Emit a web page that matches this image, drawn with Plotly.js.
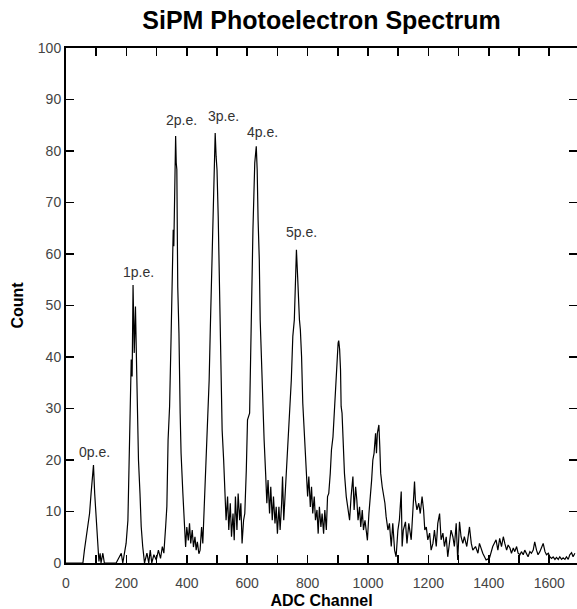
<!DOCTYPE html>
<html>
<head>
<meta charset="utf-8">
<script src="https://cdn.plot.ly/plotly-3.0.1.min.js"></script>
<style>html,body{margin:0;padding:0;background:#fff;}#chart{width:577px;height:609px;}</style>
</head>
<body>
<div id="chart"></div>
<script>
// ADC channel positions of the spectrum samples
const channels = [
0,50,56,61,67,72,78,83,89,91,
95,100,105,109,113,116,122,127,166,183,
188,194,199,205,208,211,216,219,222,226,
230,234,237,240,245,249,254,260,268,274,
279,284,291,299,306,313,319,324,330,334,
338,343,348,352,355,357,359,363,365,367,
370,374,378,381,387,392,396,400,405,409,
413,418,422,427,431,435,440,444,449,453,
456,461,465,470,474,478,483,486,490,492,
494,497,500,504,507,509,513,517,522,526,
530,535,539,544,548,553,557,561,566,570,
575,579,583,588,592,597,601,608,613,619,
622,625,630,633,636,640,643,647,652,656,
661,665,669,674,678,683,687,692,696,700,
705,709,714,717,721,726,730,736,740,746,
751,756,760,763,767,770,773,776,780,784,
790,795,800,804,809,813,817,822,826,831,
835,839,844,848,853,857,862,866,870,875,
879,884,888,892,897,901,903,906,909,911,
914,917,922,928,933,939,944,950,954,959,
963,967,972,976,981,985,990,994,998,1003,
1007,1012,1016,1020,1025,1028,1031,1036,1039,1042,
1047,1051,1056,1060,1066,1071,1077,1082,1088,1093,
1099,1104,1110,1113,1117,1124,1129,1135,1143,1148,
1154,1157,1162,1168,1173,1179,1184,1188,1193,1198,
1204,1209,1215,1220,1226,1231,1237,1242,1248,1253,
1259,1264,1270,1275,1281,1286,1292,1297,1303,1308,
1314,1319,1327,1336,1342,1347,1356,1364,1369,1380,
1391,1402,1413,1424,1430,1436,1442,1448,1453,1459,
1464,1470,1475,1481,1486,1492,1497,1503,1508,1514,
1519,1525,1530,1536,1541,1547,1552,1558,1563,1569,
1575,1580,1586,1591,1597,1602,1608,1613,1619,1624,
1630,1635,1641,1646,1652,1657,1663,1668,1674,1679,
1685
];
// Counts
const counts = [
0,0,0,2.5,5,7.7,9.6,13.5,17.4,19,
13.5,8.3,3.2,0.3,1.9,0,1.9,0,0,1.9,
0,2.5,3.8,8.3,18.7,27.8,39.5,36.2,54,40.8,
49.8,37.5,29.1,20,13.5,7.1,3.2,0,1.9,0,
2.5,0,1.6,0.6,2.5,0.9,3.2,1.9,7.1,11,
23.9,30.4,44,57,64.7,61.5,71.2,82.9,77.7,76.4,
53.7,44.6,29.1,21.3,13.5,6.4,3.1,7,4.4,7.7,
3.8,6.4,3.1,5.1,2.5,4.1,1.8,2.5,7,3.8,
8.3,14.8,21.3,27.8,35.5,45.9,56.9,65.4,69.9,78.3,
83.5,79,76.4,67.3,58.9,50.5,40.7,25.8,20,14.2,
8.3,12.9,6.4,11.6,5.1,9.6,4.4,12.9,6.4,13.5,
8.3,11.6,3.8,8.3,9.6,18,27.8,29.1,48.5,64.7,
71.2,77.7,80.9,76.4,66.7,58.9,47.2,39.4,29.7,23.9,
17.4,11.6,16.1,9.6,14.8,8.3,12.9,7.7,10.9,5.7,
10.9,6.4,11.6,16.8,8.3,14.2,18.7,23.9,27.8,35.5,
44,47.2,55,60.8,55.6,49.8,47.2,45.3,40.1,31,
24.5,18,12.9,16.8,10.9,14.8,9.6,12.9,8.3,10.3,
5.7,10.9,7,9.6,5.7,10.3,6.4,12.9,13.5,17.4,
22,24.5,29.1,34.2,39.4,42.7,43.2,41.5,37.5,30.4,
29.1,24.5,17.4,12.9,10.3,8.3,12.9,16.8,10.3,14.8,
12.2,8.3,10.9,7,10.3,6.4,8.3,5.7,4.4,9.6,
12.2,16.1,20,21.3,25.2,21.3,25.2,26.8,22.6,17.4,
14.8,13.5,11.6,9,6.4,7.7,3.2,7.7,2.5,1.2,
6.4,8.4,13.9,3.2,6.4,8,3.8,7.7,4.5,9.6,
15.8,12.2,10.3,11.6,9.6,12.9,10.3,6.4,7,4.5,
5.8,2.5,3.8,6.4,3.2,7.7,9.6,4.5,5.8,3.2,
5.1,1.2,3.8,6.4,5.1,3.2,7.7,0.6,8,5.1,
3.8,5.1,3.2,7,3.8,2.5,3.2,1.9,3.8,1.9,
0.6,0.9,3.2,4.5,2.5,4.8,3.2,5.1,3.8,2.5,
3.5,2.9,1.9,2.9,2.2,3.2,1.9,1.6,2.2,1.6,
2.5,1.9,1.2,2.2,1.9,2.5,4.1,2.5,1.6,2.2,
3.2,3.8,2.2,1.6,1.9,1.2,0.9,1.2,0.7,1.1,
0.7,1.2,0.7,1,0.7,1.2,0.7,1.6,2,1.2,
1.9
];
// Peak labels and their positions (channel, count)
const peakLabels = ['0p.e.','1p.e.','2p.e.','3p.e.','4p.e.','5p.e.'];
const peakLabelX = [94, 240, 382, 520, 649, 781];
const peakLabelY = [21.6, 56.6, 86.1, 86.7, 83.6, 64.2];

const xTickVals = [0,100,200,300,400,500,600,700,800,900,1000,1100,1200,1300,1400,1500,1600];
const xTickText = ['0','','200','','400','','600','','800','','1000','','1200','','1400','','1600'];

const trace = {
  x: channels, y: counts, type: 'scatter', mode: 'lines',
  line: {color: '#000', width: 1.2}, hoverinfo: 'x+y'
};

const annotations = peakLabels.map((t, i) => ({
  x: peakLabelX[i], y: peakLabelY[i], xref: 'x', yref: 'y', text: t,
  showarrow: false, font: {size: 14, color: '#333'}
}));

const axisCommon = {
  ticks: 'inside', ticklen: 8, tickwidth: 1.5, tickcolor: '#000',
  showline: true, linewidth: 2, linecolor: '#000', mirror: 'ticks',
  showgrid: false, zeroline: false,
  tickfont: {size: 14, color: '#444'}
};

const layout = {
  width: 577, height: 609,
  margin: {l: 66, r: 0, t: 48, b: 46},
  paper_bgcolor: '#fff', plot_bgcolor: '#fff',
  font: {family: '"Liberation Sans", Arial, sans-serif', color: '#333'},
  showlegend: false,
  title: {text: '<b>SiPM Photoelectron Spectrum</b>', font: {size: 25, color: '#000'},
          x: 0.5, xref: 'paper', y: 0.967, yref: 'container', yanchor: 'middle'},
  xaxis: Object.assign({}, axisCommon, {
    range: [0, 1692], tickmode: 'array', tickvals: xTickVals, ticktext: xTickText,
    ticklabelstandoff: 6,
    title: {text: '<b>ADC Channel</b>', font: {size: 16, color: '#000'}, standoff: 8}
  }),
  yaxis: Object.assign({}, axisCommon, {
    range: [0, 100], dtick: 10, tick0: 0,
    title: {text: '<b>Count</b>', font: {size: 16, color: '#000'}, standoff: 10}
  }),
  annotations: annotations
};

Plotly.newPlot('chart', [trace], layout, {displayModeBar: false, staticPlot: true});
</script>
</body>
</html>
